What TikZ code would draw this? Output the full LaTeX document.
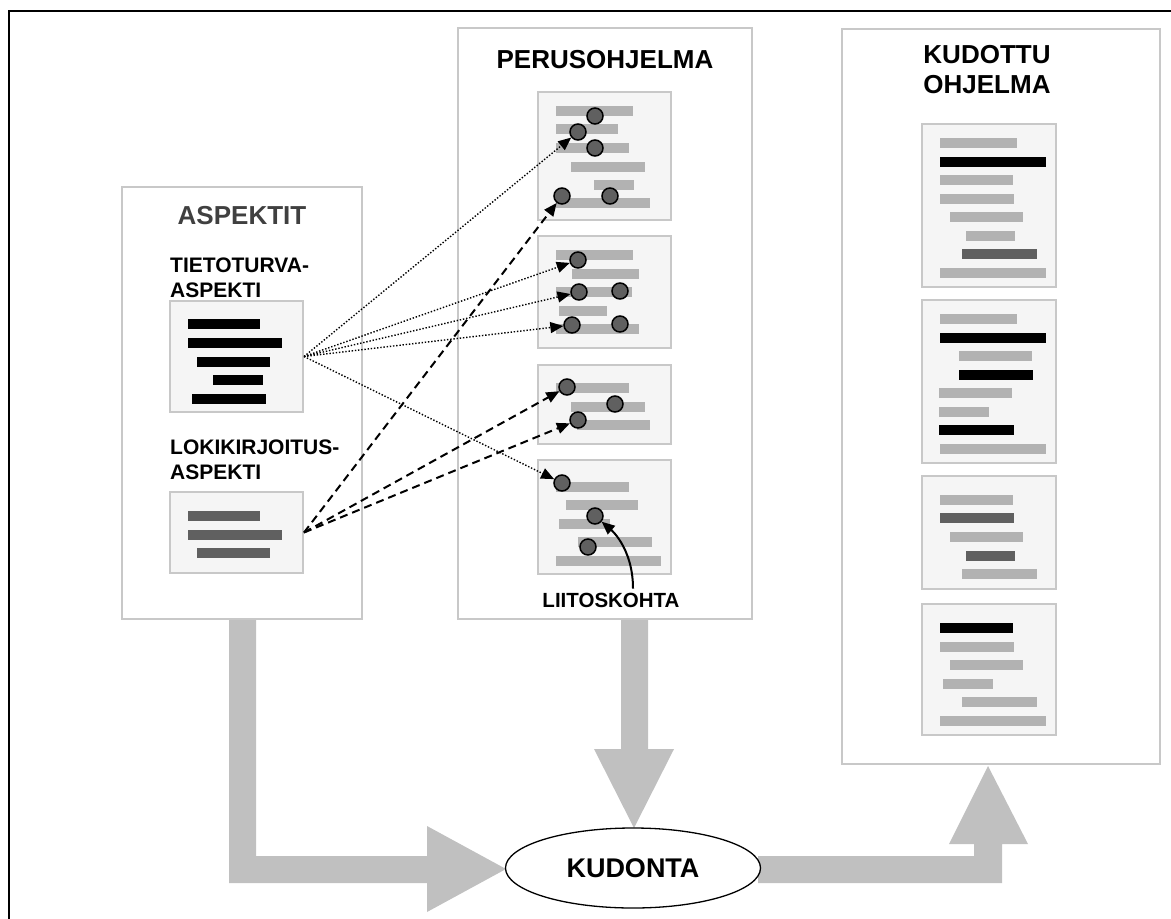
\documentclass[tikz,border=0pt]{standalone}
\usepackage{fontspec}
\setmainfont{Liberation Sans}
\usetikzlibrary{arrows.meta,shapes.geometric}

\definecolor{panelline}{HTML}{C8C8C8}
\definecolor{boxfill}{HTML}{F5F5F5}
\definecolor{lightbar}{HTML}{B2B2B2}
\definecolor{darkbar}{HTML}{606060}
\definecolor{flowgray}{HTML}{C0C0C0}
\definecolor{titlegray}{HTML}{404040}

\tikzset{
  panel/.style={draw=panelline, line width=1.5pt},
  codebox/.style={draw=panelline, fill=boxfill, line width=2pt, inner sep=0pt},
  joinpt/.style={circle, inner sep=0pt, minimum size=16pt, fill=darkbar, draw=black, line width=1.5pt},
  L/.style={fill=lightbar},
  D/.style={fill=darkbar},
  K/.style={fill=black},
  bigtitle/.style={font=\bfseries\fontsize{26pt}{30pt}\selectfont, inner sep=0pt},
  subtitle/.style={font=\bfseries\fontsize{21pt}{25pt}\selectfont, inner sep=0pt, align=left, anchor=west},
  advice/.style={line width=1.4pt, dash pattern=on 1.4pt off 1.8pt, -{Triangle[length=13pt,width=11pt]}},
  logging/.style={line width=2pt, dash pattern=on 8pt off 5pt, -{Triangle[length=13pt,width=11pt]}},
  flow/.style={fill=flowgray},
}

% a code sheet: name, x1, y1, x2, y2
\newcommand\codesheet[5]{%
  \node[codebox, minimum width={(#4-#2)*1pt}, minimum height={(#5-#3)*1pt}]
    (#1) at ({(#2+#4)/2},{(#3+#5)/2}) {};}
% one line of code: style, x1, y1, x2, y2
\newcommand\tbar[5]{\fill[#1] (#2,#3) rectangle (#4,#5);}

\begin{document}
\begin{tikzpicture}[x=1pt, y=-1pt]
\useasboundingbox (0,0) rectangle (1171,919);
\fill[white] (0,0) rectangle (1171,919);

% outer frame
\draw[line width=2pt] (9,919) -- (9,11) -- (1171,11);

% broad flow arrows
\fill[flow] (229,619) -- (256,619) -- (256,856) -- (427,856) -- (427,826)
  -- (506,869) -- (427,912) -- (427,883) -- (229,883) -- cycle;
\fill[flow] (621,619) -- (648,619) -- (648,749) -- (674,749) -- (634,828)
  -- (594,749) -- (621,749) -- cycle;
\fill[flow] (758,856) -- (974,856) -- (974,844) -- (949,844) -- (988,766)
  -- (1028,844) -- (1002,844) -- (1002,883) -- (758,883) -- cycle;

% panels
\node[panel, inner sep=0pt, minimum width=240pt, minimum height=432pt] (asppanel) at (242,403) {};
\node[panel, inner sep=0pt, minimum width=294pt, minimum height=591pt] (basepanel) at (605,323.5) {};
\node[panel, inner sep=0pt, minimum width=318pt, minimum height=735pt] (wovenpanel) at (1001,396.5) {};

% titles
\node[bigtitle, text=titlegray] (asptitle) at (242,215.5) {ASPEKTIT};
\node[bigtitle] (basetitle) at (605,60) {PERUSOHJELMA};
\node[bigtitle, align=center] (woventitle) at (987,70) {KUDOTTU\\OHJELMA};
\node[subtitle] (sectitle) at (170,277.5) {TIETOTURVA-\\ASPEKTI};
\node[subtitle] (logtitle) at (170,459.5) {LOKIKIRJOITUS-\\ASPEKTI};

% aspects
\codesheet{secbox}{170}{301}{303}{412}
\tbar{K}{188}{319}{260}{329}
\tbar{K}{188}{338}{282}{348}
\tbar{K}{197}{357}{270}{367}
\tbar{K}{213}{375}{263}{385}
\tbar{K}{192}{394}{266}{404}

\codesheet{logbox}{170}{492}{303}{573}
\tbar{D}{188}{511}{260}{521}
\tbar{D}{188}{530}{282}{540}
\tbar{D}{197}{548}{270}{558}

% base program
\codesheet{base1}{538}{92}{671}{220}
\tbar{L}{556}{106}{633}{116}
\tbar{L}{556}{124}{618}{134}
\tbar{L}{556}{143}{629}{153}
\tbar{L}{571}{162}{645}{172}
\tbar{L}{594}{180}{634}{190}
\tbar{L}{556}{198}{650}{208}
\node[joinpt] (p11) at (595,116) {};
\node[joinpt] (p12) at (578,132) {};
\node[joinpt] (p13) at (595,148) {};
\node[joinpt] (p14) at (562,196) {};
\node[joinpt] (p15) at (610,196) {};

\codesheet{base2}{538}{236}{671}{348}
\tbar{L}{556}{250}{633}{260}
\tbar{L}{572}{269}{639}{279}
\tbar{L}{556}{287}{632}{297}
\tbar{L}{559}{306}{607}{316}
\tbar{L}{556}{324}{639}{334}
\node[joinpt] (p21) at (578,260) {};
\node[joinpt] (p22) at (579,292) {};
\node[joinpt] (p23) at (620,291) {};
\node[joinpt] (p24) at (572,325) {};
\node[joinpt] (p25) at (620,324) {};

\codesheet{base3}{538}{365}{671}{444}
\tbar{L}{556}{383}{629}{393}
\tbar{L}{571}{402}{645}{412}
\tbar{L}{577}{420}{650}{430}
\node[joinpt] (p31) at (567,387) {};
\node[joinpt] (p32) at (615,404) {};
\node[joinpt] (p33) at (578,420) {};

\codesheet{base4}{538}{460}{671}{574}
\tbar{L}{556}{482}{629}{492}
\tbar{L}{566}{500}{638}{510}
\tbar{L}{559}{519}{610}{529}
\tbar{L}{578}{537}{652}{547}
\tbar{L}{556}{556}{661}{566}
\node[joinpt] (p41) at (562,483) {};
\node[joinpt] (p42) at (595,516) {};
\node[joinpt] (p43) at (588,547) {};

\node[font=\bfseries\fontsize{20.5pt}{24pt}\selectfont, inner sep=0pt] (jplabel) at (611,600) {LIITOSKOHTA};
\draw[line width=2pt, -{Triangle[length=13pt,width=11pt]}]
  ([xshift=22pt, yshift=4pt]jplabel.north) .. controls +(0,-42) and +(14,12) .. (p42);

% woven program
\codesheet{woven1}{922}{124}{1056}{287}
\tbar{L}{940}{138}{1017}{148}
\tbar{K}{940}{157}{1046}{167}
\tbar{L}{940}{175}{1013}{185}
\tbar{L}{940}{194}{1014}{204}
\tbar{L}{950}{212}{1023}{222}
\tbar{L}{966}{231}{1015}{241}
\tbar{D}{962}{249}{1037}{259}
\tbar{L}{940}{268}{1046}{278}

\codesheet{woven2}{922}{300}{1056}{463}
\tbar{L}{940}{314}{1017}{324}
\tbar{K}{940}{333}{1046}{343}
\tbar{L}{959}{351}{1032}{361}
\tbar{K}{959}{370}{1033}{380}
\tbar{L}{939}{388}{1012}{398}
\tbar{L}{939}{407}{989}{417}
\tbar{K}{939}{425}{1014}{435}
\tbar{L}{940}{444}{1046}{454}

\codesheet{woven3}{922}{476}{1056}{589}
\tbar{L}{940}{495}{1013}{505}
\tbar{D}{940}{513}{1014}{523}
\tbar{L}{950}{532}{1023}{542}
\tbar{D}{966}{551}{1015}{561}
\tbar{L}{962}{569}{1037}{579}

\codesheet{woven4}{922}{604}{1056}{735}
\tbar{K}{940}{623}{1013}{633}
\tbar{L}{940}{642}{1014}{652}
\tbar{L}{950}{660}{1023}{670}
\tbar{L}{943}{679}{993}{689}
\tbar{L}{962}{697}{1037}{707}
\tbar{L}{940}{716}{1046}{726}

% weaving step
\node[ellipse, draw=black, line width=1.3pt, fill=white, minimum width=255pt, minimum height=80pt,
  inner sep=0pt, font=\bfseries\fontsize{27pt}{30pt}\selectfont] (weave) at (633,868) {KUDONTA};

% security advice to join points
\draw[advice] (secbox.east) -- (p12);
\draw[advice] (secbox.east) -- (p21);
\draw[advice] (secbox.east) -- (p22);
\draw[advice] (secbox.east) -- (p24);
\draw[advice] (secbox.east) -- (p41);

% logging advice to join points
\draw[logging] (logbox.east) -- (p14);
\draw[logging] (logbox.east) -- (p31);
\draw[logging] (logbox.east) -- (p33);
\end{tikzpicture}
\end{document}
